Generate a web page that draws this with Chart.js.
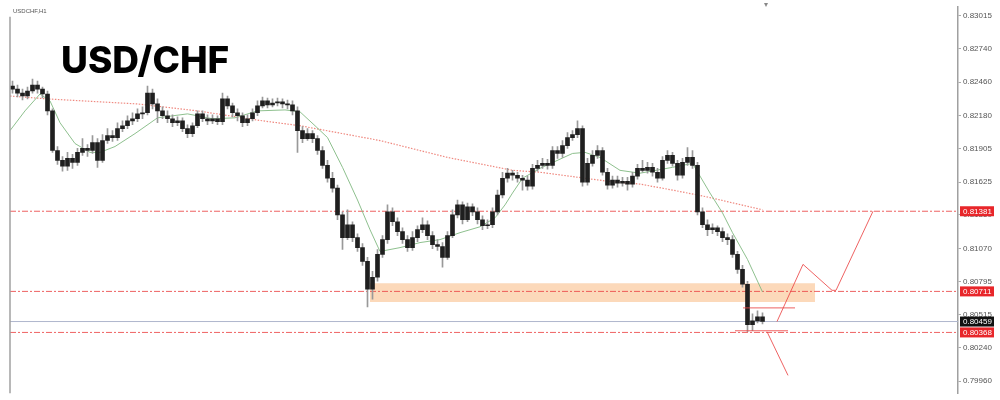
<!DOCTYPE html>
<html>
<head>
<meta charset="utf-8">
<script src="https://cdn.jsdelivr.net/npm/chart.js@4.4.1/dist/chart.umd.min.js"></script>
<style>
  html, body { margin: 0; padding: 0; background: #fff; }
  #wrap { position: relative; width: 1000px; height: 400px; }
  #title { position: absolute; left: 61px; top: 41px; font-family: Inter, sans-serif; font-weight: 800; font-size: 37px; line-height: 37px; color: #000; }
  #sym { position: absolute; left: 13px; top: 8px; font-family: "Liberation Sans", Arial, sans-serif; font-size: 6px; color: #555; }
  #mark { position: absolute; left: 764px; top: 0px; font-family: "DejaVu Sans", sans-serif; font-size: 8px; color: #888; }
</style>
</head>
<body>
<div id="wrap">
  <canvas id="chart" width="1000" height="400"></canvas>
  <div id="sym">USDCHF,H1</div>
  <div id="title">USD/CHF</div>
  <div id="mark">▾</div>
</div>
<script>
// H1 candles, one per hour
const firstOpen = 0.82427;
const closes = [
  0.82402,0.82369,0.82344,0.82386,0.82435,0.82402,0.82361,0.82220,0.81889,0.81806,
  0.81757,0.81823,0.81790,0.81873,0.81906,0.81889,0.81955,0.81806,0.81972,0.82013,
  0.81997,0.82071,0.82096,0.82137,0.82154,0.82195,0.82204,0.82369,0.82278,0.82220,
  0.82179,0.82154,0.82121,0.82137,0.82071,0.82030,0.82096,0.82195,0.82154,0.82137,
  0.82154,0.82129,0.82320,0.82262,0.82204,0.82179,0.82121,0.82154,0.82204,0.82262,
  0.82303,0.82270,0.82286,0.82295,0.82278,0.82270,0.82220,0.82055,0.81988,0.82030,
  0.81988,0.81889,0.81765,0.81657,0.81574,0.81351,0.81160,0.81268,0.81160,0.81077,
  0.80962,0.80730,0.80829,0.81020,0.81144,0.81376,0.81293,0.81210,0.81144,0.81077,
  0.81160,0.81227,0.81268,0.81177,0.81102,0.81086,0.80995,0.81177,0.81351,0.81434,
  0.81310,0.81417,0.81376,0.81310,0.81260,0.81268,0.81376,0.81517,0.81657,0.81699,
  0.81682,0.81657,0.81641,0.81591,0.81740,0.81765,0.81781,0.81765,0.81889,0.81864,
  0.81930,0.81997,0.82022,0.82071,0.81624,0.81781,0.81848,0.81889,0.81707,0.81599,
  0.81641,0.81616,0.81632,0.81608,0.81674,0.81740,0.81723,0.81748,0.81707,0.81657,
  0.81806,0.81848,0.81781,0.81682,0.81790,0.81831,0.81765,0.81376,0.81268,0.81227,
  0.81243,0.81210,0.81160,0.81144,0.81020,0.80895,0.80771,0.80432,0.80465,0.80498,
  0.80459
];
const highs = [
  0.82469,0.82435,0.82402,0.82419,0.82485,0.82469,0.82419,0.82386,0.82237,0.81922,
  0.81839,0.81873,0.81856,0.81906,0.81988,0.81939,0.82013,0.81988,0.82022,0.82071,
  0.82055,0.82121,0.82137,0.82179,0.82204,0.82237,0.82253,0.82427,0.82402,0.82320,
  0.82253,0.82220,0.82187,0.82170,0.82162,0.82104,0.82121,0.82220,0.82220,0.82187,
  0.82187,0.82179,0.82369,0.82344,0.82286,0.82237,0.82204,0.82187,0.82237,0.82303,
  0.82336,0.82328,0.82320,0.82328,0.82320,0.82311,0.82303,0.82253,0.82088,0.82071,
  0.82055,0.82013,0.81922,0.81806,0.81707,0.81599,0.81376,0.81393,0.81293,0.81193,
  0.81111,0.80995,0.80879,0.81061,0.81177,0.81434,0.81409,0.81326,0.81243,0.81177,
  0.81210,0.81260,0.81326,0.81301,0.81210,0.81144,0.81119,0.81210,0.81393,0.81475,
  0.81459,0.81450,0.81442,0.81409,0.81343,0.81310,0.81409,0.81558,0.81707,0.81740,
  0.81723,0.81707,0.81682,0.81674,0.81773,0.81806,0.81823,0.81815,0.81922,0.81922,
  0.81972,0.82038,0.82055,0.82137,0.82096,0.81823,0.81889,0.81930,0.81914,0.81740,
  0.81674,0.81674,0.81665,0.81665,0.81707,0.81773,0.81806,0.81790,0.81781,0.81740,
  0.81839,0.81889,0.81873,0.81806,0.81823,0.81914,0.81889,0.81790,0.81409,0.81310,
  0.81276,0.81260,0.81243,0.81193,0.81177,0.81045,0.80929,0.80796,0.80523,0.80548,
  0.80531
];
const lows = [
  0.82369,0.82336,0.82311,0.82320,0.82369,0.82369,0.82328,0.82187,0.81873,0.81773,
  0.81715,0.81723,0.81740,0.81765,0.81848,0.81839,0.81864,0.81748,0.81790,0.81947,
  0.81964,0.81972,0.82046,0.82071,0.82104,0.82129,0.82154,0.82187,0.82237,0.82121,
  0.82154,0.82121,0.82088,0.82096,0.82046,0.81997,0.82005,0.82079,0.82129,0.82104,
  0.82113,0.82104,0.82104,0.82237,0.82170,0.82137,0.82088,0.82096,0.82137,0.82179,
  0.82245,0.82245,0.82253,0.82262,0.82245,0.82237,0.82187,0.81873,0.81955,0.81972,
  0.81955,0.81856,0.81740,0.81624,0.81541,0.81310,0.81061,0.81144,0.81127,0.81045,
  0.80929,0.80581,0.80647,0.80796,0.80995,0.81111,0.81260,0.81177,0.81111,0.81045,
  0.81053,0.81127,0.81202,0.81144,0.81069,0.81053,0.80913,0.80978,0.81160,0.81326,
  0.81276,0.81293,0.81343,0.81276,0.81227,0.81235,0.81243,0.81351,0.81492,0.81624,
  0.81641,0.81624,0.81558,0.81558,0.81566,0.81715,0.81740,0.81732,0.81740,0.81823,
  0.81831,0.81906,0.81972,0.81997,0.81591,0.81599,0.81757,0.81823,0.81682,0.81566,
  0.81574,0.81583,0.81591,0.81558,0.81583,0.81649,0.81707,0.81699,0.81674,0.81624,
  0.81641,0.81781,0.81757,0.81641,0.81657,0.81765,0.81740,0.81351,0.81243,0.81177,
  0.81193,0.81177,0.81127,0.81102,0.80995,0.80862,0.80747,0.80374,0.80382,0.80448,
  0.80440
];

// moving averages (green fast, dotted salmon slow), bar index -> price
const fastMaX = [-0.5,2.5,5.5,7.5,9.5,12.5,15.5,17.5,20.5,24.5,29,35,40,44.5,49,54.5,57.5,60.5,63,66,69,71.5,73.5,77.5,81.5,85.5,89.5,93.5,96.5,98.5,100,102,105.5,112,114.5,117.5,121.5,125.5,132,136,139.5,142,144,147,150];
const fastMa = [0.82055,0.82220,0.82361,0.82303,0.82121,0.81947,0.81873,0.81873,0.81922,0.82030,0.82162,0.82195,0.82154,0.82162,0.82220,0.82228,0.82212,0.82096,0.81997,0.81748,0.81475,0.81227,0.81045,0.81077,0.81119,0.81144,0.81202,0.81251,0.81326,0.81434,0.81533,0.81657,0.81740,0.81864,0.81873,0.81831,0.81723,0.81699,0.81748,0.81781,0.81533,0.81367,0.81202,0.80978,0.80706];
const slowMaX = [-0.5,7,25,37,50,57.5,73.5,87,100,105.5,119,125.5,132,139,150];
const slowMa = [0.82344,0.82320,0.82278,0.82220,0.82137,0.82096,0.81972,0.81831,0.81723,0.81707,0.81632,0.81608,0.81558,0.81500,0.81393];

// price axis
const yTicks = [0.83015,0.82740,0.82460,0.82180,0.81905,0.81625,0.81350,0.81070,0.80795,0.80515,0.80240,0.79960];
const yMin = 0.79860, yMax = 0.83090;
const xMin = -0.5, xMax = 189.1;

// horizontal levels and their tag colours
const levelValues = [0.81381, 0.80711, 0.80459, 0.80368];
const levelColors = ['#e8262a', '#e8262a', '#111111', '#e8262a'];

// demand zone
const zoneX = [71.5, 160.5];
const zoneTop = 0.80779, zoneBottom = 0.80622;

// drawn lines
const upperTickX = [146.1, 156.5], upperTickY = 0.80573;
const lowerTickX = [144.5, 155.1], lowerTickY = 0.80382;
const pathUpX = [152.9, 158.1, 163.9, 164.7, 172.1];
const pathUpY = [0.80459, 0.80937, 0.80720, 0.80720, 0.81381];
const pathDownX = [150.9, 155.1];
const pathDownY = [0.80374, 0.80009];

const idx = closes.map((_, i) => i);
const opens = closes.map((c, i) => i === 0 ? firstOpen : closes[i - 1]);
const pts = (xs, ys) => xs.map((x, i) => ({ x: x, y: ys[i] }));
const flat = (xs, v) => xs.map(x => ({ x: x, y: v }));

const RED = 'rgba(235,70,70,0.85)';
const lineBase = { type: 'line', pointRadius: 0, borderWidth: 1, tension: 0, fill: false };

const levelSets = levelValues.map((v, k) => Object.assign({}, lineBase, {
  data: flat([xMin, xMax], v),
  borderColor: k === 2 ? 'rgba(175,182,205,1)' : RED,
  borderDash: k === 2 ? [] : [6, 2, 2, 2],
  order: 5
}));

const levelTags = {
  id: 'levelTags',
  afterDraw(chart) {
    const { ctx, chartArea, scales: { y } } = chart;
    ctx.save();
    ctx.strokeStyle = '#a0a0a0';
    ctx.lineWidth = 1.5;
    ctx.beginPath();
    ctx.moveTo(chartArea.left, chartArea.top + 10);
    ctx.lineTo(chartArea.left, chartArea.bottom);
    ctx.stroke();
    ctx.font = '8px "Liberation Sans", Arial, sans-serif';
    ctx.textBaseline = 'middle';
    ctx.textAlign = 'left';
    levelValues.forEach((v, k) => {
      const py = y.getPixelForValue(v);
      ctx.fillStyle = levelColors[k];
      ctx.fillRect(chartArea.right + 2, py - 5, 34, 10);
      ctx.fillStyle = '#fff';
      ctx.fillText(v.toFixed(5), chartArea.right + 5, py + 0.5);
    });
    ctx.restore();
  }
};

new Chart(document.getElementById('chart'), {
  type: 'bar',
  data: {
    datasets: [
      Object.assign({}, lineBase, { data: flat(zoneX, zoneTop), borderWidth: 0, borderColor: 'rgba(0,0,0,0)', order: 9 }),
      Object.assign({}, lineBase, { data: flat(zoneX, zoneBottom), borderWidth: 0, borderColor: 'rgba(0,0,0,0)', fill: '-1', backgroundColor: 'rgba(250,185,130,0.55)', order: 9 }),
      ...levelSets,
      Object.assign({}, lineBase, { data: pts(slowMaX, slowMa), borderColor: 'rgba(238,130,120,0.95)', borderWidth: 1.2, borderDash: [1.5, 1.5], order: 4 }),
      Object.assign({}, lineBase, { data: pts(fastMaX, fastMa), borderColor: 'rgba(130,185,130,0.9)', order: 3 }),
      {
        type: 'bar', grouped: false, order: 2,
        data: idx.map(i => ({ x: i, y: [lows[i], highs[i]] })),
        backgroundColor: '#999999', barThickness: 1, borderWidth: 0
      },
      {
        type: 'bar', grouped: false, order: 1,
        data: idx.map(i => ({ x: i, y: [opens[i], closes[i]] })),
        backgroundColor: '#1f1f1f', barThickness: 4, borderWidth: 0, minBarLength: 1
      },
      Object.assign({}, lineBase, { data: flat(upperTickX, upperTickY), borderColor: RED, order: 0 }),
      Object.assign({}, lineBase, { data: flat(lowerTickX, lowerTickY), borderColor: RED, order: 0 }),
      Object.assign({}, lineBase, { data: pts(pathUpX, pathUpY), borderColor: RED, order: 0 }),
      Object.assign({}, lineBase, { data: pts(pathDownX, pathDownY), borderColor: RED, order: 0 })
    ]
  },
  options: {
    responsive: false,
    animation: false,
    layout: { padding: { left: 10, right: 0, top: 5, bottom: 5 } },
    plugins: { legend: { display: false }, tooltip: { enabled: false } },
    scales: {
      x: { type: 'linear', min: xMin, max: xMax, offset: false, display: false },
      y: {
        position: 'right',
        min: yMin, max: yMax,
        beginAtZero: false,
        afterBuildTicks: s => { s.ticks = yTicks.map(v => ({ value: v })); },
        afterFit: s => { s.width = 42; },
        ticks: { callback: v => v.toFixed(5), color: '#555', padding: 2, font: { size: 8, family: '"Liberation Sans", Arial, sans-serif' } },
        grid: { drawOnChartArea: false, drawTicks: true, tickLength: 3, color: '#aaa' },
        border: { display: true, color: '#a0a0a0', width: 1.5 }
      }
    }
  },
  plugins: [levelTags]
});
</script>
</body>
</html>
